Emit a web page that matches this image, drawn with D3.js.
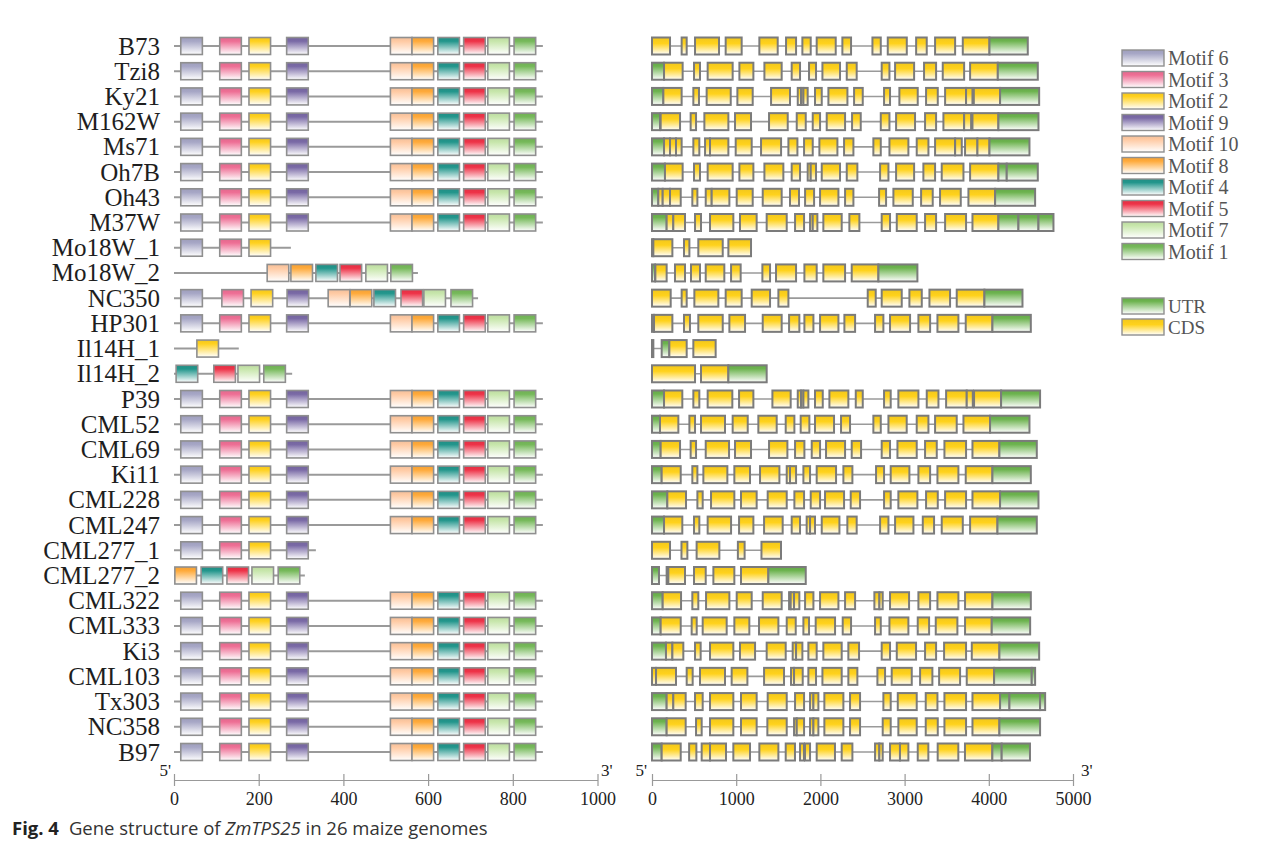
<!DOCTYPE html>
<html><head><meta charset="utf-8">
<script src="https://cdn.jsdelivr.net/npm/d3@7"></script>
<style>
html,body{margin:0;padding:0;background:#fff;}
svg{display:block;}
</style></head>
<body>
<svg id="chart" width="1273" height="858"></svg>
<script>
// ---------------- DATA ----------------
const rowNames = ["B73","Tzi8","Ky21","M162W","Ms71","Oh7B","Oh43","M37W","Mo18W_1","Mo18W_2","NC350","HP301","Il14H_1","Il14H_2","P39","CML52","CML69","Ki11","CML228","CML247","CML277_1","CML277_2","CML322","CML333","Ki3","CML103","Tx303","NC358","B97"];

const motifNames = ["Motif 6","Motif 3","Motif 2","Motif 9","Motif 10","Motif 8","Motif 4","Motif 5","Motif 7","Motif 1"];
const motifColors = ["#a7a7c6","#ee6f95","#ffd11f","#7a6aa6","#ffcaa3","#ffaa3a","#23968c","#ee3348","#c7e6ab","#76b95a"];
const motifWidth = 51;

// standard motif layout (motif, start position in aa)
const stdMotifs = [["Motif 6",16],["Motif 3",108],["Motif 2",177],["Motif 9",266],["Motif 10",511],["Motif 8",562],["Motif 4",623],["Motif 5",684],["Motif 7",741],["Motif 1",803]];

const proteinLengths = [871,871,871,871,871,871,871,871,276,576,718,871,153,279,871,871,871,871,871,871,335,309,871,871,871,871,871,871,871];

const motifHits = [
  stdMotifs, stdMotifs, stdMotifs, stdMotifs, stdMotifs, stdMotifs, stdMotifs, stdMotifs,
  [["Motif 6",16],["Motif 3",108],["Motif 2",177]],
  [["Motif 10",220],["Motif 8",276],["Motif 4",335],["Motif 5",392],["Motif 7",453],["Motif 1",512]],
  [["Motif 6",16],["Motif 3",113],["Motif 2",182],["Motif 9",267],["Motif 10",364],["Motif 8",416],["Motif 4",472],["Motif 5",536],["Motif 7",590],["Motif 1",654]],
  stdMotifs,
  [["Motif 2",54]],
  [["Motif 4",5],["Motif 5",94],["Motif 7",151],["Motif 1",212]],
  stdMotifs, stdMotifs, stdMotifs, stdMotifs, stdMotifs, stdMotifs,
  [["Motif 6",16],["Motif 3",108],["Motif 2",177],["Motif 9",266]],
  [["Motif 8",2],["Motif 4",64],["Motif 5",125],["Motif 7",184],["Motif 1",246]],
  stdMotifs, stdMotifs, stdMotifs, stdMotifs, stdMotifs, stdMotifs, stdMotifs
];

// gene structures: [start, end, type] in bp ; U = UTR, C = CDS
const geneFeatures = [
 [[0,214,"C"],[352,412,"C"],[511,796,"C"],[875,1065,"C"],[1275,1493,"C"],[1592,1711,"C"],[1786,1885,"C"],[1956,2182,"C"],[2261,2364,"C"],[2618,2717,"C"],[2800,3026,"C"],[3137,3263,"C"],[3362,3600,"C"],[3691,4008,"C"],[4008,4463,"U"]],
 [[0,143,"U"],[143,364,"C"],[499,570,"C"],[661,958,"C"],[1038,1204,"C"],[1335,1540,"C"],[1659,1758,"C"],[1865,1948,"C"],[2024,2233,"C"],[2313,2431,"C"],[2728,2820,"C"],[2887,3113,"C"],[3231,3374,"C"],[3453,3707,"C"],[3778,4107,"C"],[4107,4582,"U"]],
 [[0,135,"U"],[135,352,"C"],[491,558,"C"],[649,935,"C"],[1014,1196,"C"],[1414,1639,"C"],[1731,1770,"C"],[1770,1798,"C"],[1798,1849,"C"],[1936,2016,"C"],[2095,2321,"C"],[2400,2503,"C"],[2756,2827,"C"],[2938,3156,"C"],[3255,3394,"C"],[3481,3730,"C"],[3730,3806,"C"],[3822,4134,"C"],[4134,4598,"U"]],
 [[0,95,"U"],[103,333,"C"],[459,523,"C"],[622,907,"C"],[986,1176,"C"],[1390,1612,"C"],[1719,1826,"C"],[1909,1996,"C"],[2075,2293,"C"],[2376,2479,"C"],[2717,2820,"C"],[2899,3124,"C"],[3243,3374,"C"],[3461,3707,"C"],[3707,3790,"C"],[3806,4114,"C"],[4114,4590,"U"]],
 [[0,143,"U"],[143,214,"C"],[214,285,"C"],[285,352,"C"],[491,562,"C"],[630,689,"C"],[689,907,"C"],[994,1184,"C"],[1295,1533,"C"],[1620,1727,"C"],[1806,1909,"C"],[1988,2202,"C"],[2281,2392,"C"],[2629,2717,"C"],[2820,3045,"C"],[3144,3283,"C"],[3362,3600,"C"],[3600,3679,"C"],[3718,3865,"C"],[3865,4008,"C"],[4008,4483,"U"]],
 [[0,154,"U"],[154,364,"C"],[499,570,"C"],[661,958,"C"],[1038,1204,"C"],[1335,1560,"C"],[1659,1758,"C"],[1849,1885,"C"],[1885,1948,"C"],[2016,2233,"C"],[2313,2439,"C"],[2709,2808,"C"],[2899,3113,"C"],[3223,3362,"C"],[3441,3699,"C"],[3778,4114,"C"],[4114,4213,"U"],[4213,4582,"U"]],
 [[0,75,"U"],[75,127,"C"],[127,214,"C"],[214,341,"C"],[479,539,"C"],[638,709,"C"],[709,919,"C"],[1006,1196,"C"],[1315,1540,"C"],[1639,1746,"C"],[1818,1925,"C"],[1996,2214,"C"],[2293,2392,"C"],[2697,2780,"C"],[2867,3097,"C"],[3196,3334,"C"],[3421,3667,"C"],[3758,4075,"C"],[4075,4550,"U"]],
 [[0,174,"U"],[174,253,"C"],[253,392,"C"],[511,582,"C"],[689,966,"C"],[1045,1243,"C"],[1362,1600,"C"],[1699,1806,"C"],[1877,1909,"C"],[1909,1964,"C"],[2035,2253,"C"],[2344,2463,"C"],[2728,2827,"C"],[2907,3144,"C"],[3243,3374,"C"],[3481,3730,"C"],[3806,4114,"C"],[4114,4352,"U"],[4352,4590,"U"],[4590,4768,"U"]],
 [[0,16,"U"],[16,242,"C"],[380,444,"C"],[550,840,"C"],[907,1176,"C"]],
 [[0,36,"U"],[40,174,"C"],[273,392,"C"],[463,570,"C"],[638,859,"C"],[939,1053,"C"],[1311,1402,"C"],[1473,1711,"C"],[1810,1956,"C"],[2035,2293,"C"],[2372,2689,"C"],[2689,3152,"U"]],
 [[0,222,"C"],[352,412,"C"],[503,788,"C"],[875,1065,"C"],[1184,1402,"C"],[1501,1620,"C"],[2562,2657,"C"],[2728,2966,"C"],[3057,3204,"C"],[3295,3540,"C"],[3619,3948,"C"],[3948,4400,"U"]],
 [[0,24,"U"],[24,242,"C"],[380,451,"C"],[550,840,"C"],[919,1105,"C"],[1315,1540,"C"],[1628,1750,"C"],[1810,1917,"C"],[1996,2214,"C"],[2285,2412,"C"],[2649,2748,"C"],[2827,3065,"C"],[3164,3303,"C"],[3390,3639,"C"],[3726,4043,"C"],[4043,4499,"U"]],
 [[0,16,"U"],[115,206,"U"],[206,412,"C"],[491,756,"C"]],
 [[0,511,"C"],[582,907,"C"],[907,1362,"U"]],
 [[0,143,"U"],[143,360,"C"],[491,562,"C"],[661,954,"C"],[1034,1204,"C"],[1430,1647,"C"],[1731,1770,"C"],[1770,1798,"C"],[1798,1857,"C"],[1936,2028,"C"],[2107,2332,"C"],[2420,2503,"C"],[2756,2835,"C"],[2926,3164,"C"],[3263,3402,"C"],[3493,3738,"C"],[3738,3810,"C"],[3825,4146,"C"],[4146,4609,"U"]],
 [[0,95,"U"],[95,313,"C"],[444,511,"C"],[582,867,"C"],[958,1137,"C"],[1263,1481,"C"],[1588,1691,"C"],[1766,1869,"C"],[1936,2162,"C"],[2245,2352,"C"],[2629,2717,"C"],[2808,3025,"C"],[3144,3283,"C"],[3362,3619,"C"],[3699,4015,"C"],[4015,4483,"U"]],
 [[0,103,"U"],[103,333,"C"],[459,523,"C"],[638,915,"C"],[986,1176,"C"],[1390,1608,"C"],[1699,1810,"C"],[1897,1996,"C"],[2067,2293,"C"],[2372,2483,"C"],[2728,2827,"C"],[2915,3144,"C"],[3243,3382,"C"],[3473,3730,"C"],[3806,4126,"C"],[4126,4570,"U"]],
 [[0,115,"U"],[115,341,"C"],[479,539,"C"],[610,895,"C"],[978,1164,"C"],[1283,1513,"C"],[1600,1639,"C"],[1639,1711,"C"],[1798,1877,"C"],[1956,2186,"C"],[2273,2380,"C"],[2661,2756,"C"],[2835,3057,"C"],[3164,3303,"C"],[3390,3639,"C"],[3726,4043,"C"],[4043,4499,"U"]],
 [[0,182,"U"],[182,404,"C"],[539,602,"C"],[701,978,"C"],[1057,1243,"C"],[1374,1600,"C"],[1691,1806,"C"],[1885,1996,"C"],[2055,2281,"C"],[2360,2471,"C"],[2756,2835,"C"],[2926,3152,"C"],[3255,3394,"C"],[3481,3730,"C"],[3806,4134,"C"],[4134,4590,"U"]],
 [[0,143,"U"],[143,360,"C"],[499,562,"C"],[661,939,"C"],[1034,1204,"C"],[1331,1552,"C"],[1659,1758,"C"],[1837,1877,"C"],[1877,1936,"C"],[2016,2226,"C"],[2320,2431,"C"],[2709,2808,"C"],[2887,3105,"C"],[3216,3350,"C"],[3441,3691,"C"],[3778,4103,"C"],[4103,4570,"U"]],
 [[0,214,"C"],[350,420,"C"],[530,800,"C"],[1020,1100,"C"],[1300,1532,"C"]],
 [[0,83,"U"],[174,194,"U"],[194,392,"C"],[499,638,"C"],[729,978,"C"],[1057,1382,"C"],[1382,1826,"U"]],
 [[0,127,"U"],[127,345,"C"],[479,550,"C"],[642,919,"C"],[1006,1184,"C"],[1315,1540,"C"],[1628,1647,"C"],[1647,1687,"C"],[1687,1750,"C"],[1818,1917,"C"],[1996,2214,"C"],[2293,2412,"C"],[2641,2701,"C"],[2701,2740,"C"],[2827,3053,"C"],[3164,3303,"C"],[3390,3639,"C"],[3718,4043,"C"],[4043,4499,"U"]],
 [[0,103,"U"],[103,341,"C"],[471,531,"C"],[602,887,"C"],[978,1156,"C"],[1271,1501,"C"],[1600,1707,"C"],[1798,1865,"C"],[1944,2174,"C"],[2265,2364,"C"],[2649,2717,"C"],[2820,3045,"C"],[3156,3291,"C"],[3370,3627,"C"],[3718,4035,"C"],[4035,4491,"U"]],
 [[0,166,"U"],[166,242,"C"],[242,372,"C"],[511,578,"C"],[689,966,"C"],[1045,1224,"C"],[1362,1588,"C"],[1671,1711,"C"],[1711,1786,"C"],[1857,1956,"C"],[2035,2253,"C"],[2332,2459,"C"],[2728,2827,"C"],[2907,3136,"C"],[3243,3374,"C"],[3469,3730,"C"],[3798,4126,"C"],[4126,4598,"U"]],
 [[0,48,"C"],[48,285,"C"],[412,483,"C"],[570,867,"C"],[946,1133,"C"],[1331,1568,"C"],[1651,1687,"C"],[1687,1790,"C"],[1857,1948,"C"],[2024,2253,"C"],[2332,2439,"C"],[2677,2768,"C"],[2847,3085,"C"],[3184,3330,"C"],[3410,3659,"C"],[3738,4063,"C"],[4063,4510,"U"],[4510,4550,"U"]],
 [[0,174,"U"],[174,253,"C"],[253,400,"C"],[511,602,"C"],[689,966,"C"],[1057,1243,"C"],[1374,1600,"C"],[1699,1806,"C"],[1877,1917,"C"],[1917,1976,"C"],[2047,2273,"C"],[2352,2471,"C"],[2748,2835,"C"],[2919,3144,"C"],[3251,3390,"C"],[3473,3730,"C"],[3806,4134,"C"],[4134,4245,"U"],[4245,4609,"U"],[4609,4669,"U"]],
 [[0,174,"U"],[174,400,"C"],[523,590,"C"],[689,966,"C"],[1057,1243,"C"],[1370,1600,"C"],[1687,1719,"C"],[1719,1806,"C"],[1877,1917,"C"],[1917,1976,"C"],[2047,2273,"C"],[2352,2471,"C"],[2740,2835,"C"],[2926,3144,"C"],[3251,3394,"C"],[3473,3730,"C"],[3806,4126,"C"],[4126,4609,"U"]],
 [[0,115,"U"],[115,341,"C"],[441,527,"C"],[590,689,"C"],[689,879,"C"],[966,1164,"C"],[1275,1501,"C"],[1588,1698,"C"],[1758,1805,"C"],[1817,1877,"C"],[1956,2173,"C"],[2253,2380,"C"],[2649,2700,"C"],[2700,2740,"C"],[2827,2945,"C"],[2945,3045,"C"],[3156,3282,"C"],[3393,3638,"C"],[3717,4042,"C"],[4042,4153,"U"],[4153,4489,"U"]]
];

const leftTicks = [0,200,400,600,800,1000];
const rightTicks = [0,1000,2000,3000,4000,5000];
const structLegend = [["UTR","U"],["CDS","C"]];
const structColors = {U:"#6cb34e", C:"#ffd21c"};

// ---------------- DRAW ----------------
const serif = "'Liberation Serif','Times New Roman',serif";
const svg = d3.select("#chart");
const defs = svg.append("defs");

function grad(id, color, mid){
  const g = defs.append("linearGradient").attr("id", id).attr("x1",0).attr("y1",0).attr("x2",0).attr("y2",1);
  g.append("stop").attr("offset","0%").attr("stop-color", d3.color(color).darker(0.15));
  g.append("stop").attr("offset", mid).attr("stop-color", color);
  g.append("stop").attr("offset","100%").attr("stop-color","#ffffff");
}
motifNames.forEach((m,i)=>grad("mg"+i, motifColors[i], "22%"));
grad("gU", structColors.U, "20%");
grad("gC", structColors.C, "35%");

const motifColorIdx = new Map(motifNames.map((m,i)=>[m,i]));

const xL = d3.scaleLinear().domain([0,1000]).range([174,597.5]);
const xR = d3.scaleLinear().domain([0,5000]).range([652,1073]);
const y = d3.scalePoint().domain(rowNames).range([46,752]);
const boxH = 17;

// row labels
svg.append("g").selectAll("text").data(rowNames).join("text")
  .attr("x",160).attr("y",d=>y(d)+8.5)
  .attr("text-anchor","end")
  .style("font-family",serif)
  .attr("font-size",25).attr("fill","#1e1e1e")
  .text(d=>d);

// left panel: protein motifs
const left = svg.append("g");
rowNames.forEach((name,i)=>{
  const cy = y(name);
  left.append("line").attr("x1",xL(0)).attr("x2",xL(proteinLengths[i]))
    .attr("y1",cy).attr("y2",cy).attr("stroke","#9a9a9a").attr("stroke-width",2);
  left.selectAll(null).data(motifHits[i]).join("rect")
    .attr("x",d=>xL(d[1])).attr("width",d=>xL(d[1]+motifWidth)-xL(d[1]))
    .attr("y",cy-boxH/2).attr("height",boxH)
    .attr("fill",d=>"url(#mg"+motifColorIdx.get(d[0])+")")
    .attr("stroke","#8f8f8f").attr("stroke-width",1.6);
});

// right panel: gene structure
const right = svg.append("g");
rowNames.forEach((name,i)=>{
  const cy = y(name);
  const f = geneFeatures[i];
  const end = d3.max(f, d=>d[1]);
  right.append("line").attr("x1",xR(0)).attr("x2",xR(end))
    .attr("y1",cy).attr("y2",cy).attr("stroke","#9a9a9a").attr("stroke-width",1.6);
  right.selectAll(null).data(f).join("rect")
    .attr("x",d=>xR(d[0])).attr("width",d=>Math.max(1,xR(d[1])-xR(d[0])))
    .attr("y",cy-boxH/2).attr("height",boxH)
    .attr("fill",d=>"url(#g"+d[2]+")")
    .attr("stroke","#7b7b7b").attr("stroke-width",2);
});

// axes
const axisY = 780;
const axL = svg.append("g").attr("transform",`translate(0,${axisY})`)
  .call(d3.axisBottom(xL).tickValues(leftTicks).tickSize(6).tickSizeOuter(0).tickFormat(d3.format("d")));
const axR = svg.append("g").attr("transform",`translate(0,${axisY})`)
  .call(d3.axisBottom(xR).tickValues(rightTicks).tickSize(6).tickSizeOuter(0).tickFormat(d3.format("d")));
[axL,axR].forEach(a=>{
  a.attr("font-family",null).attr("font-size",null);
  a.select(".domain").attr("stroke","#999").attr("stroke-width",1.2);
  a.selectAll(".tick line").attr("stroke","#999").attr("stroke-width",1.2).attr("y1",-6).attr("y2",6);
  a.selectAll(".tick text").style("font-family",serif).style("font-size","18px")
    .attr("fill","#222").attr("dy",null).attr("y",25);
});
const primeText = [[171,"end","5'"],[601,"start","3'"],[647,"end","5'"],[1081,"start","3'"]];
svg.append("g").selectAll("text").data(primeText).join("text")
  .attr("x",d=>d[0]).attr("y",776).attr("text-anchor",d=>d[1])
  .style("font-family",serif).attr("font-size",17).attr("fill","#222").text(d=>d[2]);

// legend
const lg = svg.append("g");
motifNames.forEach((m,k)=>{
  const ty = 50 + k*21.5;
  lg.append("rect").attr("x",1122).attr("y",ty).attr("width",42).attr("height",16)
    .attr("fill","url(#mg"+k+")").attr("stroke","#8f8f8f").attr("stroke-width",1.4);
  lg.append("text").attr("x",1168).attr("y",ty+15).style("font-family",serif)
    .attr("font-size",20).attr("fill","#555").text(m);
});
structLegend.forEach((s,k)=>{
  const ty = 298 + k*21;
  lg.append("rect").attr("x",1122).attr("y",ty).attr("width",42).attr("height",16)
    .attr("fill","url(#g"+s[1]+")").attr("stroke","#8f8f8f").attr("stroke-width",1.4);
  lg.append("text").attr("x",1168).attr("y",ty+15).style("font-family",serif)
    .attr("font-size",19).attr("fill","#555").text(s[0]);
});

// caption
const cap = svg.append("text").attr("x",12).attr("y",835)
  .style("font-family","'Open Sans','Noto Sans',sans-serif").attr("font-size",18.5).attr("fill","#333");
cap.append("tspan").attr("font-weight","bold").attr("fill","#222").text("Fig. 4");
cap.append("tspan").attr("dx",10).text("Gene structure of ");
cap.append("tspan").attr("font-style","italic").text("ZmTPS25");
cap.append("tspan").text(" in 26 maize genomes");
</script>
</body></html>
